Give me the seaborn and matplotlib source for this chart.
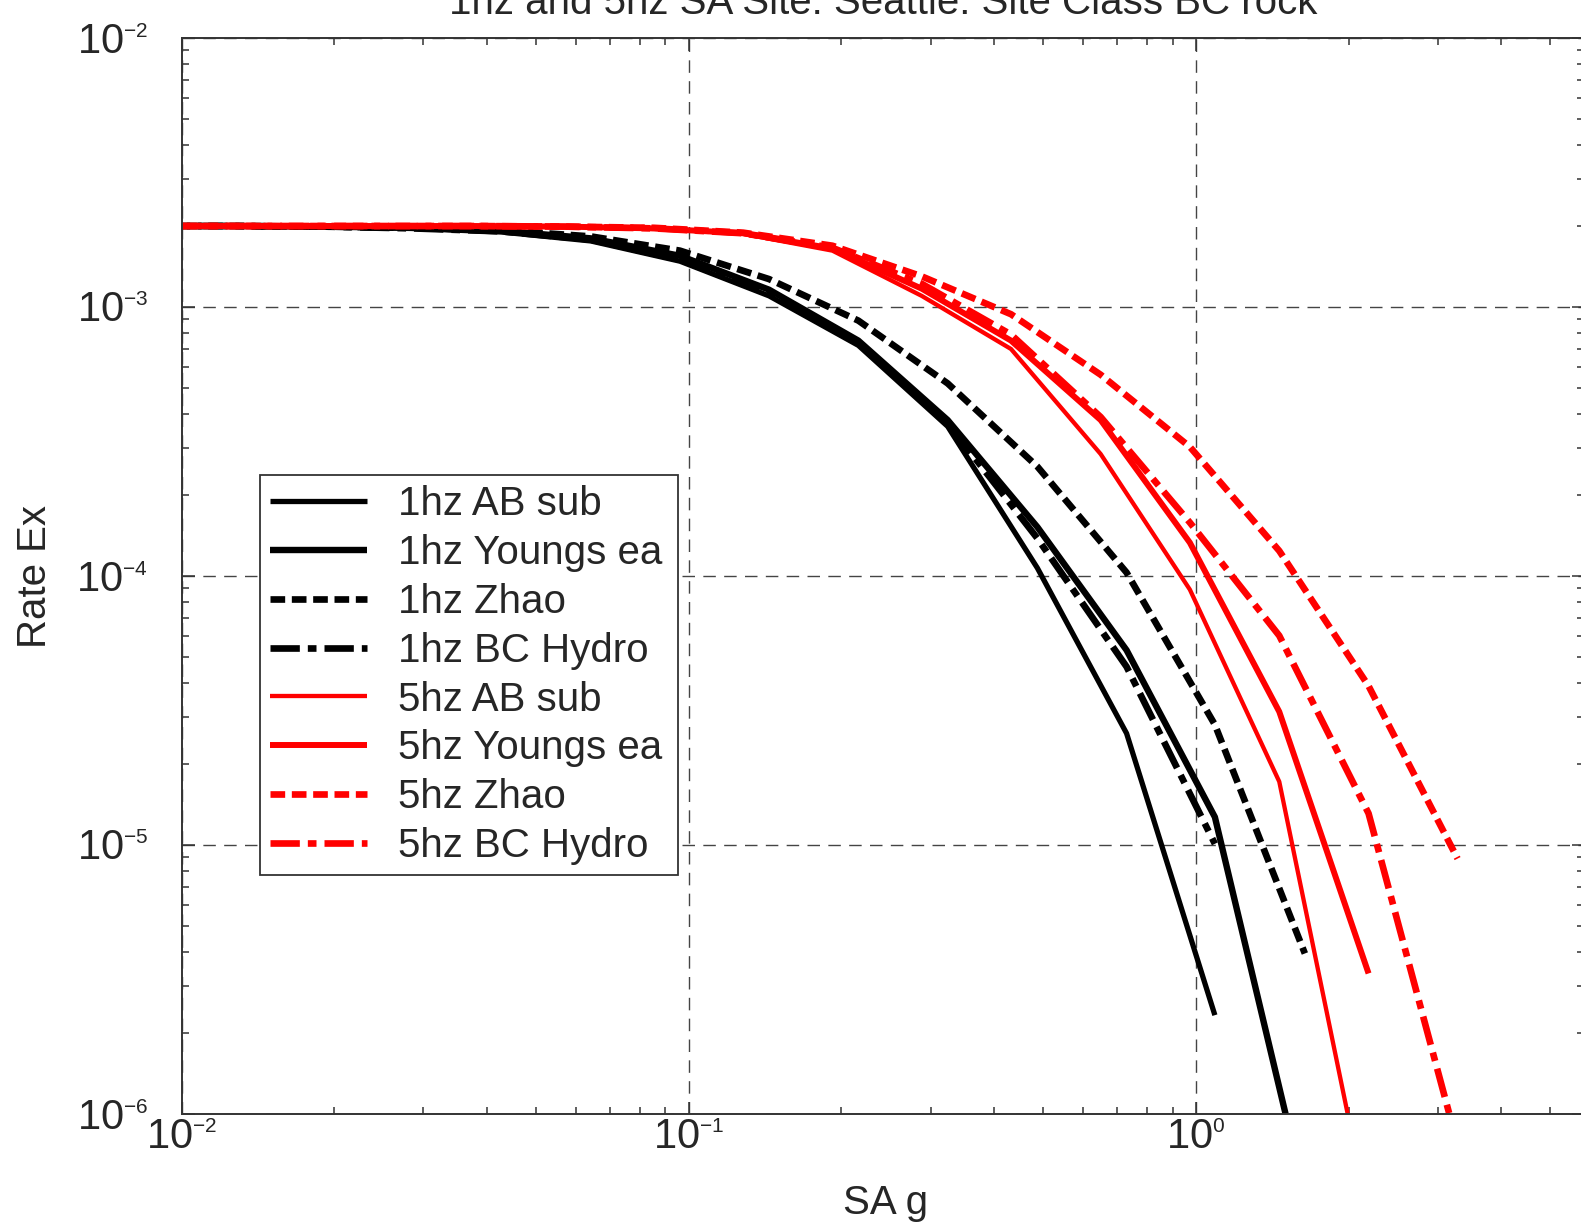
import numpy as np
import pandas as pd
import matplotlib
matplotlib.use("Agg")
import matplotlib.pyplot as plt
import matplotlib._mathtext as mathtext_impl
import seaborn as sns
from matplotlib.ticker import LogLocator, FuncFormatter, NullFormatter

# ---------------------------------------------------------------------------
# Hazard curves: annual rate of exceedance vs spectral acceleration (g)
# ---------------------------------------------------------------------------
sa_1hz = [0.00844, 0.0127, 0.0190, 0.0285, 0.0427, 0.0641, 0.0961, 0.144,
          0.216, 0.324, 0.487, 0.730, 1.09, 1.64]
rate_1hz_ab_sub = [2.0e-3, 2.0e-3, 1.99e-3, 1.96e-3, 1.90e-3, 1.76e-3, 1.48e-3,
                   1.10e-3, 7.2e-4, 3.6e-4, 1.07e-4, 2.6e-5, 2.33e-6, np.nan]
rate_1hz_youngs = [2.0e-3, 2.0e-3, 1.99e-3, 1.97e-3, 1.92e-3, 1.80e-3, 1.55e-3,
                   1.16e-3, 7.5e-4, 3.8e-4, 1.52e-4, 5.3e-5, 1.27e-5, 5.0e-7]
rate_1hz_zhao = [2.0e-3, 2.0e-3, 1.99e-3, 1.97e-3, 1.93e-3, 1.83e-3, 1.62e-3,
                 1.27e-3, 8.9e-4, 5.2e-4, 2.55e-4, 1.03e-4, 2.8e-5, 3.95e-6]
rate_1hz_bchydro = [2.0e-3, 2.0e-3, 1.99e-3, 1.96e-3, 1.91e-3, 1.78e-3, 1.50e-3,
                    1.12e-3, 7.35e-4, 3.7e-4, 1.38e-4, 4.6e-5, 1.01e-5, np.nan]

sa_5hz = [0.0075, 0.0113, 0.0169, 0.0253, 0.0380, 0.0570, 0.0854, 0.128,
          0.192, 0.288, 0.432, 0.649, 0.973, 1.46, 2.19, 3.28]
rate_5hz_ab_sub = [2.0e-3, 2.0e-3, 2.0e-3, 2.0e-3, 2.0e-3, 1.99e-3, 1.96e-3, 1.87e-3,
                   1.62e-3, 1.10e-3, 6.98e-4, 2.84e-4, 8.9e-5, 1.72e-5, 4.2e-7, np.nan]
rate_5hz_youngs = [2.0e-3, 2.0e-3, 2.0e-3, 2.0e-3, 2.0e-3, 1.99e-3, 1.96e-3, 1.88e-3,
                   1.65e-3, 1.17e-3, 7.5e-4, 3.8e-4, 1.33e-4, 3.13e-5, 3.33e-6, np.nan]
rate_5hz_zhao = [2.0e-3, 2.0e-3, 2.0e-3, 2.0e-3, 2.0e-3, 1.99e-3, 1.97e-3, 1.89e-3,
                 1.69e-3, 1.30e-3, 9.4e-4, 5.6e-4, 3.02e-4, 1.24e-4, 3.9e-5, 8.9e-6]
rate_5hz_bchydro = [2.0e-3, 2.0e-3, 2.0e-3, 2.0e-3, 2.0e-3, 1.99e-3, 1.96e-3, 1.88e-3,
                    1.66e-3, 1.22e-3, 7.9e-4, 3.9e-4, 1.58e-4, 6.0e-5, 1.31e-5, 7.7e-7]

series_labels = ["1hz AB sub", "1hz Youngs ea", "1hz Zhao", "1hz BC Hydro",
                 "5hz AB sub", "5hz Youngs ea", "5hz Zhao", "5hz BC Hydro"]

title_text = "1hz and 5hz SA Site: Seattle. Site Class BC rock"
x_label = "SA g"
y_label = "Rate Ex"

# ---------------------------------------------------------------------------
# Style
# ---------------------------------------------------------------------------
sns.set_style("ticks")
plt.rcParams["font.family"] = ["Liberation Sans", "DejaVu Sans"]
plt.rcParams["mathtext.fontset"] = "custom"
plt.rcParams["mathtext.rm"] = "Liberation Sans"
plt.rcParams["mathtext.it"] = "Liberation Sans:italic"
plt.rcParams["mathtext.bf"] = "Liberation Sans:bold"
plt.rcParams["axes.axisbelow"] = True
# smaller exponents on the power-of-ten tick labels
mathtext_impl.SHRINK_FACTOR = 0.5

DASHED = (0, (2.2, 1.0))
DASHDOT = (0, (4.4, 1.2, 1.3, 1.2))

line_specs = [
    # (x, y, color, linewidth, linestyle)
    (sa_1hz, rate_1hz_ab_sub, "black", 3.8, "-"),
    (sa_1hz, rate_1hz_youngs, "black", 4.6, "-"),
    (sa_1hz, rate_1hz_zhao, "black", 4.8, DASHED),
    (sa_1hz, rate_1hz_bchydro, "black", 4.8, DASHDOT),
    (sa_5hz, rate_5hz_ab_sub, "#ff0000", 3.1, "-"),
    (sa_5hz, rate_5hz_youngs, "#ff0000", 4.3, "-"),
    (sa_5hz, rate_5hz_zhao, "#ff0000", 4.8, DASHED),
    (sa_5hz, rate_5hz_bchydro, "#ff0000", 4.8, DASHDOT),
]

W, H = 1581, 1224
fig = plt.figure(figsize=(W / 100, H / 100), dpi=100)
ax_left, ax_right, ax_top, ax_bottom = 181.5, 1584.0, 38.0, 1114.0
ax = fig.add_axes([ax_left / W, 1 - ax_bottom / H,
                   (ax_right - ax_left) / W, (ax_bottom - ax_top) / H])
ax.set_xscale("log")
ax.set_yscale("log")

for label, (x, y, color, lw, ls) in zip(series_labels, line_specs):
    df = pd.DataFrame({"sa": x, "rate": y}).dropna()
    sns.lineplot(data=df, x="sa", y="rate", ax=ax, color=color, linewidth=lw,
                 linestyle=ls, label=label, sort=False, estimator=None,
                 dash_capstyle="butt", solid_capstyle="butt", legend=False)

ax.set_xlim(0.01, 10 ** (-2 + (ax_right - ax_left) / 507.2))
ax.set_ylim(1e-6, 1e-2)

# Ticks and grid
fmt = FuncFormatter(lambda v, p: r"$\mathregular{10^{%d}}$" % int(round(np.log10(v))))
for axis in (ax.xaxis, ax.yaxis):
    axis.set_major_locator(LogLocator(base=10, numticks=12))
    axis.set_minor_locator(LogLocator(base=10, subs=np.arange(2, 10), numticks=40))
    axis.set_major_formatter(fmt)
    axis.set_minor_formatter(NullFormatter())

ax.tick_params(which="both", direction="in", top=True, right=True,
               color="#333333", width=1.1)
ax.tick_params(which="major", length=9, labelsize=30)
ax.tick_params(which="minor", length=5)
ax.tick_params(axis="x", which="major", pad=3)
ax.tick_params(axis="y", which="major", pad=24)

ax.grid(which="major", linestyle=(0, (9, 6)), color="#444444", linewidth=1.0)
ax.grid(which="minor", visible=False)

for sp in ax.spines.values():
    sp.set_color("#333333")
    sp.set_linewidth(1.4)

ax.set_xlabel(x_label, fontsize=29)
ax.set_ylabel(y_label, fontsize=29)
ax.xaxis.set_label_coords((886 - ax_left) / (ax_right - ax_left),
                          -(1184 - ax_bottom) / (ax_bottom - ax_top))
ax.yaxis.set_label_coords(-(ax_left - 54) / (ax_right - ax_left), 0.5)

ax.set_title(title_text, fontsize=29, pad=17)

handles, labels = ax.get_legend_handles_labels()
leg_x0, leg_y0, leg_w = 260, 475, 418
leg = ax.legend(handles, labels, loc="upper left", mode="expand",
                bbox_to_anchor=(leg_x0 / W, 1 - leg_y0 / H, leg_w / W, 0),
                bbox_transform=fig.transFigure,
                borderaxespad=0, fontsize=29, frameon=True, fancybox=False,
                framealpha=1, edgecolor="#333333", handlelength=2.4,
                handletextpad=0.78, labelspacing=0.27, borderpad=0.25)
leg.get_frame().set_linewidth(1.3)

fig.savefig("out.png", dpi=100, facecolor="white")
